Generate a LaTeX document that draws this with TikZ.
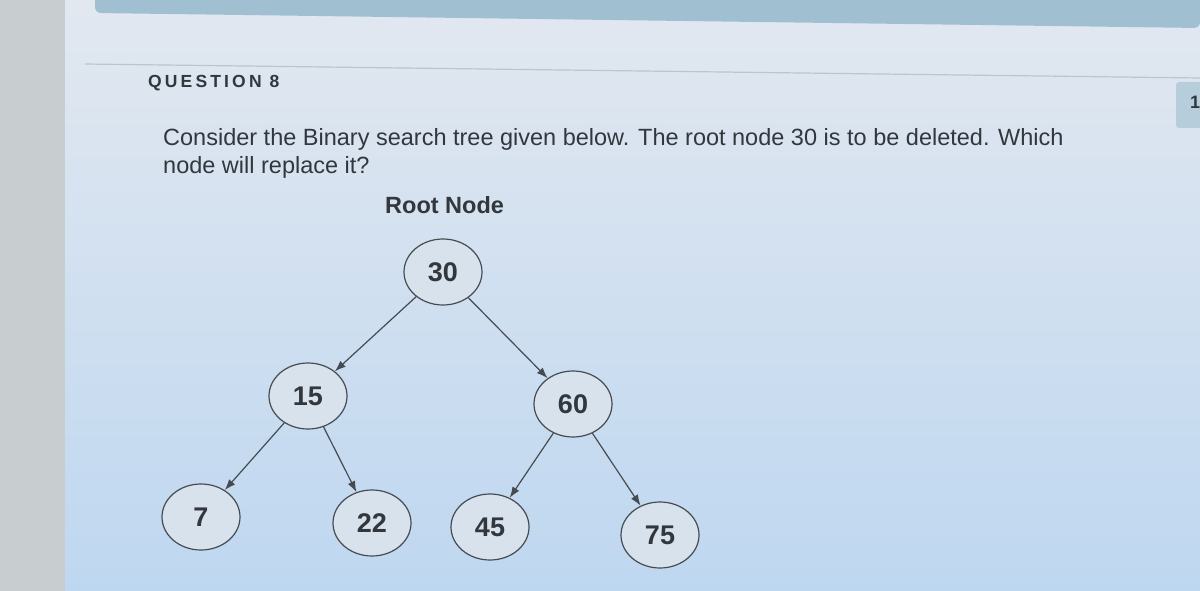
\documentclass[tikz,border=0pt]{standalone}
\usepackage{fontspec}
\setmainfont{Liberation Sans}
\usetikzlibrary{arrows.meta}
\usetikzlibrary{shapes.geometric}
\usetikzlibrary{positioning}

\definecolor{pagetop}{RGB}{226,232,240}
\definecolor{pagebot}{RGB}{190,215,240}
\definecolor{bezel}{RGB}{200,205,208}
\definecolor{barblue}{RGB}{160,192,210}
\definecolor{tabblue}{RGB}{182,205,220}
\definecolor{rulegrey}{RGB}{190,196,204}
\definecolor{ink}{RGB}{50,55,62}
\definecolor{nodefill}{RGB}{216,226,236}
\definecolor{edgegrey}{RGB}{70,75,82}

\begin{document}
\begin{tikzpicture}[
  x=1pt, y=-1pt,
  > = {Latex[length=11pt,width=8pt]},
  bst/.style = {draw=edgegrey, line width=1.2pt, fill=nodefill, ellipse,
    minimum width=78pt, minimum height=66pt, inner sep=0pt,
    font=\fontsize{27}{27}\selectfont\bfseries, text=ink},
  link/.style = {->, draw=edgegrey, line width=1.2pt},
  prose/.style = {anchor=base west, inner sep=0pt, text=ink,
    font=\fontsize{23.5}{23.5}\selectfont}
  ]
	\useasboundingbox (0,0) rectangle (1200,591);
	\clip (0,0) rectangle (1200,591);

	% screen and frame
	\shade[top color=pagetop, bottom color=pagebot] (0,0) rectangle (1200,591);
	\fill[bezel] (0,0) rectangle (65,591);
	\fill[barblue, rounded corners=6pt] (95,-20) -- (95,13) -- (1200,28) -- (1200,-20) -- cycle;
	\draw[rulegrey, line width=1.2pt] (85,64) -- (1200,78);
	\fill[tabblue, rounded corners=3pt] (1176,82) rectangle (1215,128);
	\node[anchor=west, inner sep=0pt, text=ink, font=\fontsize{18}{18}\selectfont\bfseries] (qnum) at (1190,102) {1};

	% question text
	\node[prose, font=\fontsize{17.5}{17.5}\selectfont\bfseries\addfontfeatures{LetterSpace=18}] (qhead) at (148,88) {QUESTION 8};
	\node[prose] (qtext) at (163,146)
	  {Consider the Binary search tree given below. The root node 30 is to be deleted. Which};
	\node[prose] (qtext2) at (163,174) {node will replace it?};
	\node[prose, font=\fontsize{23.5}{23.5}\selectfont\bfseries] (rootlbl) at (385,213) {Root Node};

	% the tree
	\node[bst] (n30) at (443,272) {30};
	\node[bst] (n15) at (308,396) {15};
	\node[bst] (n60) at (573,404) {60};
	\node[bst] (n7)  at (201,517) {7};
	\node[bst] (n22) at (372,523) {22};
	\node[bst] (n45) at (490,527) {45};
	\node[bst] (n75) at (660,535) {75};

	\draw[link] (n30) -- (n15);
	\draw[link] (n30) -- (n60);
	\draw[link] (n15) -- (n7);
	\draw[link] (n15) -- (n22);
	\draw[link] (n60) -- (n45);
	\draw[link] (n60) -- (n75);

\end{tikzpicture}
\end{document}
